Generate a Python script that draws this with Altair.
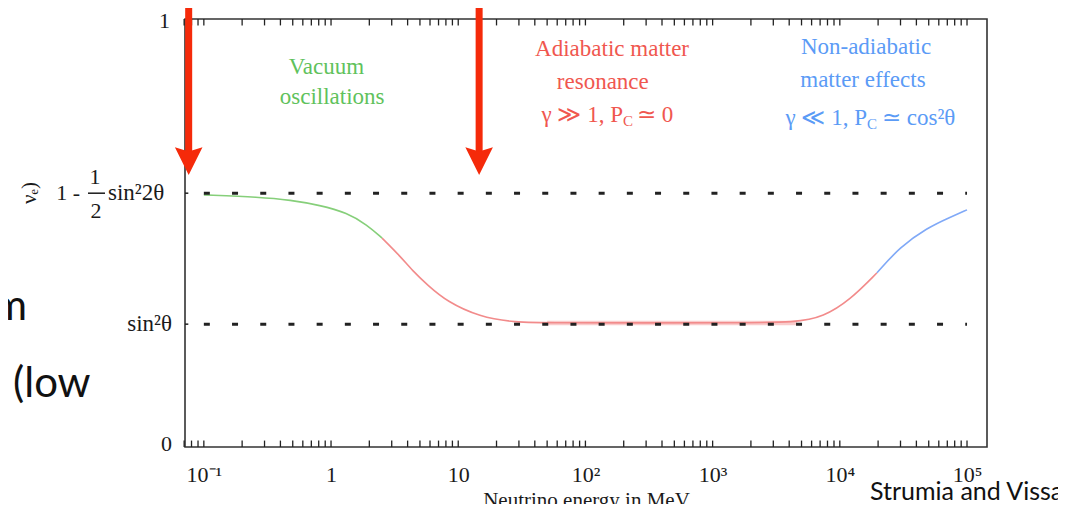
import json
import altair as alt
import pandas as pd

# ---------------- data ----------------
energy_mev = [0.1, 0.277, 0.477, 0.82, 1.34, 1.92, 2.52, 3.49, 4.4, 5.7, 8.2, 14.8,
              27, 60, 300, 1500, 4600, 7400, 12000, 19600, 29600, 48600, 74000, 100000]
survival = [0.589, 0.584, 0.577, 0.565, 0.547, 0.519, 0.488, 0.446, 0.411, 0.379, 0.339, 0.304,
            0.291, 0.290, 0.290, 0.290, 0.291, 0.304, 0.343, 0.407, 0.467, 0.512, 0.537, 0.554]
regime_names = ["Vacuum", "Adiabatic", "Non-adiabatic"]
regime_bounds = [(0, 6), (6, 19), (19, 23)]
regime_colors = ["#86cf7a", "#f28b8b", "#80a9f7"]

band_energy = [50, 4600]          # thicker pink band on the plateau
band_level = [0.29, 0.29]

level_values = [0.287, 0.593]     # sin^2(theta), 1 - 1/2 sin^2(2 theta)
level_range = [0.1, 100000]

arrow_energy = [0.076, 14.6]
arrow_top = 1.044
arrow_head = 0.668

x_domain = [0.0711, 143600]
tick_values = [0.1, 1, 10, 100, 1000, 10000, 100000]
tick_labels = ["10⁻¹", "1", "10", "10²", "10³", "10⁴", "10⁵"]
minor_ticks = [m * 10 ** d for d in range(-2, 6) for m in range(1, 10)
               if 0.069 <= m * 10 ** d <= x_domain[1]]
tick_len = 0.015   # in units of the y axis (about 6 px)

SERIF = "Liberation Serif"
SANS = "Lato"
W, H = 802, 428
GREEN, RED, BLUE = "#5fc25c", "#f0574f", "#5b9bf6"
ARROW = "#f52a0a"

xscale = alt.Scale(type="log", domain=x_domain)
yscale = alt.Scale(domain=[0, 1])
label_expr = json.dumps(tick_labels) + "[round(log(datum.value)/LN10)+1]"
xaxis = alt.Axis(values=tick_values, labelExpr=label_expr, ticks=False, domain=False,
                 grid=False, labelFont=SERIF, labelFontSize=22, labelColor="#1a1a1a",
                 labelPadding=17, title="Neutrino energy in MeV", titleFont=SERIF,
                 titleFontSize=21, titleFontWeight="normal", titleColor="#1a1a1a",
                 titlePadding=4, labelFlush=False, labelOverlap=False)


def X(field="E"):
    return alt.X(f"{field}:Q", scale=xscale, axis=xaxis)


def Y(field="P"):
    return alt.Y(f"{field}:Q", scale=yscale, axis=None)


layers = []

# inward ticks on bottom and top frame
n = len(minor_ticks)
tick_df = pd.DataFrame({"E": minor_ticks * 2,
                        "P": [0.0] * n + [1.0] * n,
                        "P2": [tick_len] * n + [1.0 - tick_len] * n})
layers.append(alt.Chart(tick_df).mark_rule(color="#222", strokeWidth=1.3).encode(
    x=X(), y=Y(), y2="P2:Q"))

# pink band on plateau
band_df = pd.DataFrame({"E": band_energy, "P": band_level})
layers.append(alt.Chart(band_df).mark_line(color="#f9cccc", strokeWidth=4.5).encode(
    x=X(), y=Y()))

# the survival probability curve, coloured by regime
rows = []
for name, (a, b) in zip(regime_names, regime_bounds):
    for i in range(a, b + 1):
        rows.append({"E": energy_mev[i], "P": survival[i], "regime": name, "order": i})
curve_df = pd.DataFrame(rows)
layers.append(alt.Chart(curve_df).mark_line(strokeWidth=1.6, interpolate="basis").encode(
    x=X(), y=Y(),
    color=alt.Color("regime:N", scale=alt.Scale(domain=regime_names, range=regime_colors),
                    legend=None),
    detail="regime:N", order="order:Q"))

# dashed reference levels (drawn above the curve)
lev_df = pd.DataFrame({"E": [level_range[0]] * 2, "E2": [level_range[1]] * 2, "P": level_values})
layers.append(alt.Chart(lev_df).mark_rule(color="#222", strokeWidth=3,
                                          strokeDash=[6, 22.2]).encode(
    x=X(), x2="E2:Q", y=Y()))
# small y ticks at those levels
lev_tick_df = pd.DataFrame({"E": [x_domain[0]] * 2, "E2": [0.0755] * 2, "P": level_values})
layers.append(alt.Chart(lev_tick_df).mark_rule(color="#222", strokeWidth=1.5).encode(
    x=X(), x2="E2:Q", y=Y()))

# red arrows
arr_df = pd.DataFrame({"E": arrow_energy, "P": [arrow_top] * 2, "P2": [arrow_head] * 2})
layers.append(alt.Chart(arr_df).mark_rule(color=ARROW, strokeWidth=7, clip=False).encode(
    x=X(), y=Y(), y2="P2:Q"))
head_df = pd.DataFrame({"E": arrow_energy, "P": [arrow_head] * 2})
layers.append(alt.Chart(head_df).mark_point(shape="M-1,-1L0,-0.7L1,-1L0,1Z", size=760,
                                            filled=True, opacity=1, color=ARROW,
                                            clip=False).encode(x=X(), y=Y()))


def txt(s, p, E=None, px=None, color="#1a1a1a", size=22, align="center", dx=0, dy=0,
        font=SERIF, baseline="middle", angle=None):
    df = pd.DataFrame({"E": [E if E is not None else 1.0], "P": [p], "t": [s]})
    kw = dict(font=font, fontSize=size, color=color, align=align, dx=dx, dy=dy,
              baseline=baseline, clip=False)
    if angle is not None:
        kw["angle"] = angle
    enc = dict(y=Y(), text="t:N")
    enc["x"] = X() if E is not None else alt.value(px)
    return alt.Chart(df).mark_text(**kw).encode(**enc)


# regime annotations
layers += [
    txt("Vacuum", 0.888, E=0.92, color=GREEN, size=23),
    txt("oscillations", 0.818, E=1.02, color=GREEN, size=23),
    txt("Adiabatic matter", 0.930, E=162, color=RED, size=23),
    txt("resonance", 0.853, E=137, color=RED, size=23),
    txt("γ ≫ 1, P", 0.776, E=197.6, color=RED, size=23, align="right"),
    txt("C", 0.776, E=197.6, color=RED, size=15, align="left", dx=0, dy=6),
    txt("≃ 0", 0.776, E=197.6, color=RED, size=23, align="left", dx=14),
    txt("Non-adiabatic", 0.935, E=16070, color=BLUE, size=23),
    txt("matter effects", 0.857, E=15200, color=BLUE, size=23),
    txt("γ ≪ 1, P", 0.769, E=16370, color=BLUE, size=23, align="right"),
    txt("C", 0.769, E=16370, color=BLUE, size=15, align="left", dy=6),
    txt("≃ cos²θ", 0.769, E=16370, color=BLUE, size=23, align="left", dx=15),
]

# y-axis labels
layers += [
    txt("1", 0.995, px=-15, size=22, align="right"),
    txt("0", 0.007, px=-13, size=22, align="right"),
    txt("sin²θ", level_values[0], px=-13, size=23, align="right"),
    txt("sin²2θ", level_values[1], px=-77, size=23, align="left"),
    txt("1 -", level_values[1], px=-105, size=22, align="right"),
    txt("1", 0.632, px=-90, size=22, align="center"),
    txt("2", 0.552, px=-89, size=22, align="center"),
    txt("νₑ)", 0.619, px=-155, size=21, align="right", angle=270),
]
frac_df = pd.DataFrame({"P": [level_values[1]]})
layers.append(alt.Chart(frac_df).mark_rule(color="#1a1a1a", strokeWidth=1.5).encode(
    x=alt.value(-97), x2=alt.value(-80), y=Y()))

# slide text around the figure
layers += [
    txt("m", 0.297, px=-158, size=42, align="right", font=SANS, baseline="alphabetic",
        color="#111"),
    txt("(low", 0.117, px=-172, size=42, align="left", font=SANS, baseline="alphabetic",
        color="#111"),
    txt("Strumia and Vissani", -0.124, px=685, size=25, align="left", font=SANS,
        baseline="alphabetic", color="#111"),
]

chart = alt.layer(*layers).properties(
    width=W, height=H,
    autosize=alt.AutoSizeParams(type="none"),
    padding={"left": 177, "top": 11, "right": 71, "bottom": 57},
).configure(background="white").configure_view(stroke="#333", strokeWidth=1.6)

chart.save("out.html", embed_options={"renderer": "svg", "actions": False})
